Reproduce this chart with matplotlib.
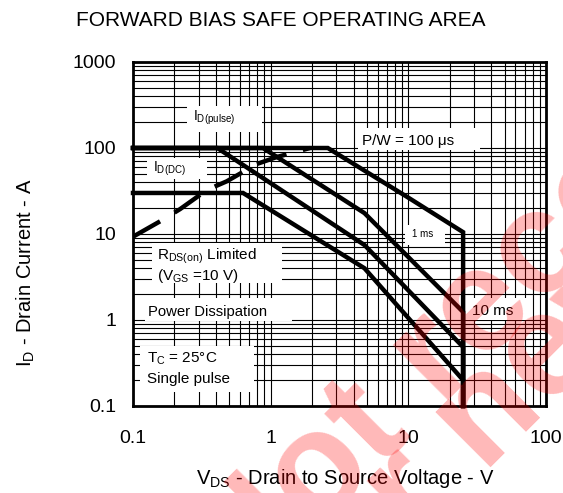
import numpy as np
import matplotlib.pyplot as plt
from matplotlib.patches import Rectangle
from matplotlib.ticker import LogLocator, NullFormatter

plt.rcParams['font.family'] = ['Liberation Sans', 'DejaVu Sans']
plt.rcParams['mathtext.fontset'] = 'custom'
plt.rcParams['mathtext.rm'] = 'Liberation Sans'
plt.rcParams['mathtext.it'] = 'Liberation Sans:italic'
plt.rcParams['mathtext.bf'] = 'Liberation Sans:bold'

# safe operating area limits (V, A)
pw100us_v = [0.1, 2.6, 9.8, 25, 25]
pw100us_i = [100, 100, 27, 10.5, 0.1]

pw1ms_v = [0.1, 0.88, 4.8, 25, 25]
pw1ms_i = [100, 100, 17.5, 1.24, 0.1]

pw10ms_v = [0.1, 0.41, 4.8, 25, 25]
pw10ms_i = [100, 100, 7.45, 0.485, 0.1]

dc_v = [0.1, 0.63, 4.8, 25, 25]
dc_i = [30, 30, 4.0, 0.2, 0.1]

# RDS(on) limit (dashed)
rds_v = [0.1, 0.163, 0.22, 0.344, 0.48, 0.79, 1.11, 1.93]
rds_i = [9.3, 14.5, 19.5, 32.5, 41, 65, 78.6, 100]

x_ticks = [0.1, 1, 10, 100]
x_labels = ['0.1', '1', '10', '100']
y_ticks = [0.1, 1, 10, 100, 1000]
y_labels = ['0.1', '1', '10', '100', '1000']

W, H = 563, 493
L, R, T, B = 133, 546, 62, 406


def ax_px(x, y):
    '''pixel position in the picture -> axes fraction'''
    return ((x - L) / (R - L), (B - y) / (B - T))


fig = plt.figure(figsize=(W / 100, H / 100), dpi=100)
ax = fig.add_axes([L / W, (H - B) / H, (R - L) / W, (B - T) / H])

ax.set_xscale('log')
ax.set_yscale('log')
ax.set_xlim(0.1, 100)
ax.set_ylim(0.1, 1000)

ax.set_xticks(x_ticks, labels=x_labels)
ax.set_yticks(y_ticks, labels=y_labels)
ax.xaxis.set_minor_locator(LogLocator(base=10, subs=np.arange(2, 10)))
ax.yaxis.set_minor_locator(LogLocator(base=10, subs=np.arange(2, 10)))
ax.xaxis.set_minor_formatter(NullFormatter())
ax.yaxis.set_minor_formatter(NullFormatter())
ax.tick_params(which='both', length=0, labelsize=14)
ax.tick_params(axis='x', pad=17)
ax.tick_params(axis='y', pad=12)

ax.set_axisbelow(True)
ax.grid(True, which='both', color='black', lw=0.8)
for s in ax.spines.values():
    s.set_linewidth(2)

# white label boxes that break the grid
boxes = [
    (187, 106, 262, 132),
    (147, 158, 207, 179),
    (358, 128, 480, 150),
    (405, 225, 445, 245),
    (152, 243, 282, 283),
    (145, 298, 292, 321),
    (465, 298, 528, 320),
    (140, 346, 254, 392),
]
for x0, y0, x1, y1 in boxes:
    fx0, fy0 = ax_px(x0, y1)
    fx1, fy1 = ax_px(x1, y0)
    ax.add_patch(Rectangle((fx0, fy0), fx1 - fx0, fy1 - fy0, transform=ax.transAxes,
                           facecolor='white', edgecolor='none', zorder=1))

for v, i in [(pw100us_v, pw100us_i), (pw1ms_v, pw1ms_i), (pw10ms_v, pw10ms_i), (dc_v, dc_i)]:
    ax.plot(v, i, color='black', lw=3.2, solid_joinstyle='miter', zorder=3, clip_on=False)

ax.plot(rds_v, rds_i, color='black', lw=3.2, dashes=(7, 3.8), zorder=3)

labels = [
    (193, 118, r'I$_{\mathrm{D(pulse)}}$', 10),
    (153, 169, r'I$_{\mathrm{D(DC)}}$', 10),
    (362, 141, 'P/W = 100 μs', 11),
    (412, 234, '1 ms', 7),
    (472, 311, '10 ms', 11),
    (157, 256, r'R$_{\mathrm{DS(on)}}$ Limited', 11),
    (157, 276, r'(V$_{\mathrm{GS}}$ =10 V)', 11),
    (148, 312, 'Power Dissipation', 10.7),
    (147, 359, r'T$_{\mathrm{C}}$ = 25°C', 11),
    (147, 379, 'Single pulse', 11),
]
for x, y, s, fs in labels:
    ax.text(*ax_px(x, y), s, transform=ax.transAxes, ha='left', va='center',
            fontsize=fs, zorder=4)

fig.text(281 / W, 1 - 21 / H, 'FORWARD BIAS SAFE OPERATING AREA',
         ha='center', va='center', fontsize=15)
fig.text(345 / W, 1 - 479 / H, r'V$_{\mathrm{DS}}$ - Drain to Source Voltage - V',
         ha='center', va='center', fontsize=14.5)
fig.text(26 / W, 1 - 273 / H, r'I$_{\mathrm{D}}$ - Drain Current - A',
         ha='center', va='center', rotation=90, fontsize=14.5)

# watermark
for x, y, s in [(241, 607, 'Not recommended'), (318, 640, 'for new design')]:
    fig.text(x / W, 1 - y / H, s, rotation=45, rotation_mode='anchor',
             ha='left', va='baseline', fontsize=105, fontweight='bold',
             color='red', alpha=0.28, zorder=10)

fig.savefig('out.png', dpi=100)
